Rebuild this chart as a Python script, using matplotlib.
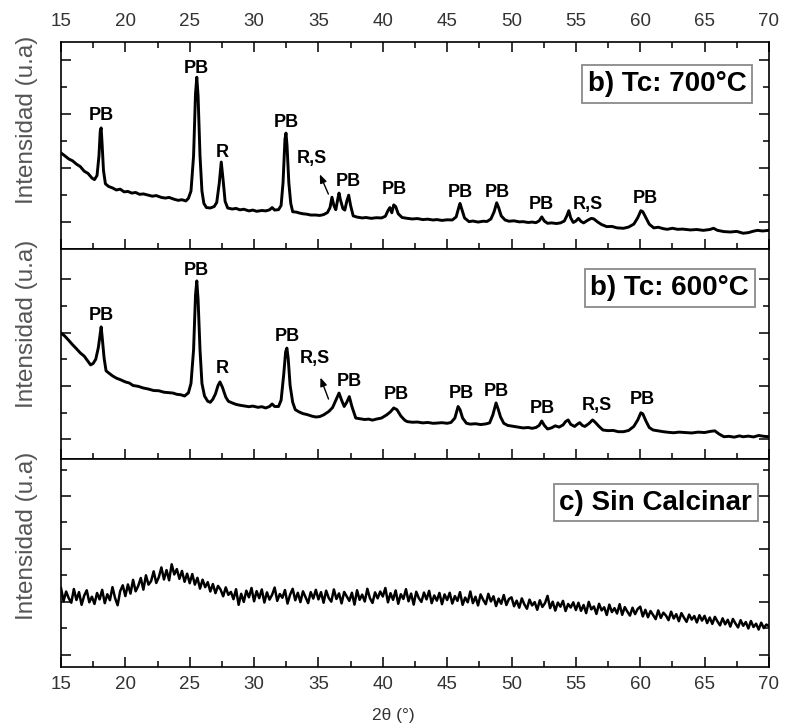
import numpy as np
import matplotlib.pyplot as plt
from matplotlib.ticker import MultipleLocator, FixedLocator

plt.rcParams['font.family'] = ['Liberation Sans', 'DejaVu Sans']

# --- Difractograma Tc = 700 C (intensidad relativa del panel, 0-100) ---
x_700 = [15.0, 15.3, 15.6, 15.9, 16.2, 16.5, 16.8, 17.1, 17.4, 17.6, 17.8, 17.95, 18.05, 18.12, 18.2, 18.3, 18.45,
         18.7, 19.0, 19.3, 19.6, 19.9, 20.2, 20.5, 20.8, 21.1, 21.4, 21.8, 22.1, 22.4, 22.8, 23.1, 23.4, 23.8,
         24.1, 24.4, 24.7, 24.9, 25.1, 25.3, 25.45, 25.55, 25.65, 25.8, 25.95, 26.1, 26.3, 26.6, 26.9, 27.1,
         27.3, 27.45, 27.6, 27.75, 27.95, 28.3, 28.6, 28.9, 29.2, 29.6, 29.9, 30.2, 30.6, 30.9, 31.2, 31.4,
         31.6, 31.9, 32.1, 32.25, 32.4, 32.48, 32.56, 32.7, 32.85, 33.0, 33.3, 33.5, 33.8, 34.1, 34.4, 34.8,
         35.1, 35.4, 35.7, 35.9, 36.05, 36.2, 36.35, 36.5, 36.6, 36.7, 36.9, 37.05, 37.2, 37.35, 37.5, 37.7,
         38.0, 38.4, 38.7, 39.1, 39.5, 39.9, 40.2, 40.4, 40.55, 40.7, 40.85, 41.0, 41.2, 41.5, 41.9, 42.3,
         42.7, 43.1, 43.5, 43.9, 44.2, 44.6, 45.0, 45.4, 45.7, 45.9, 46.0, 46.15, 46.35, 46.7, 47.0, 47.4,
         47.8, 48.1, 48.4, 48.65, 48.85, 49.0, 49.2, 49.5, 49.8, 50.2, 50.6, 50.9, 51.3, 51.6, 51.9, 52.15,
         52.35, 52.55, 52.8, 53.1, 53.5, 53.8, 54.1, 54.3, 54.45, 54.6, 54.8, 55.0, 55.2, 55.4, 55.6, 55.9,
         56.2, 56.4, 56.7, 57.0, 57.4, 57.8, 58.2, 58.7, 59.1, 59.5, 59.8, 60.05, 60.2, 60.45, 60.7, 61.05,
         61.4, 61.8, 62.1, 62.5, 62.9, 63.3, 63.9, 64.4, 64.9, 65.4, 65.7, 66.0, 66.5, 67.0, 67.5, 68.0,
         68.4, 68.8, 69.1, 69.5, 70.0]
y_700 = [46.4, 45.0, 43.5, 42.6, 41.0, 39.8, 37.6, 36.5, 34.3, 33.5, 35.5, 45.0, 57.0, 58.5, 50.0, 38.0, 31.5,
         30.2, 29.5, 28.5, 28.9, 27.6, 27.8, 27.0, 27.3, 26.4, 26.6, 26.0, 25.5, 25.8, 24.9, 24.6, 24.9, 24.0,
         23.5, 23.8, 23.2, 24.5, 28.0, 45.0, 75.0, 83.0, 74.0, 45.0, 28.0, 22.0, 20.0, 19.8, 20.5, 22.5,
         32.0, 42.0, 33.0, 23.0, 19.8, 19.3, 19.6, 18.9, 19.2, 18.4, 18.8, 18.2, 18.6, 18.4, 18.9, 20.0,
         18.8, 19.0, 21.0, 32.0, 53.0, 56.0, 50.0, 32.0, 22.0, 18.0, 17.8, 17.4, 17.0, 16.8, 16.4, 16.4,
         16.2, 16.6, 17.6, 20.0, 25.0, 21.0, 19.0, 24.0, 27.0, 24.0, 19.5, 18.8, 23.0, 26.0, 21.0, 16.0,
         15.4, 15.0, 15.2, 14.8, 15.1, 15.0, 15.8, 18.5, 20.0, 17.5, 21.3, 20.5, 17.0, 15.2, 14.8, 14.5,
         14.7, 14.2, 14.4, 14.0, 14.2, 13.8, 14.1, 14.0, 15.5, 20.0, 22.0, 19.0, 15.0, 13.2, 13.5, 13.0,
         13.4, 13.3, 14.5, 18.0, 22.3, 20.0, 16.0, 14.0, 13.4, 13.6, 13.1, 13.2, 12.8, 13.0, 12.7, 13.6,
         15.5, 13.5, 12.4, 12.6, 12.3, 12.6, 13.5, 16.0, 18.5, 15.0, 12.8, 13.5, 14.8, 13.3, 12.6, 13.8,
         14.8, 14.5, 13.0, 11.8, 10.8, 10.9, 10.2, 10.0, 10.6, 12.0, 15.0, 18.5, 18.0, 15.0, 12.0, 10.2,
         10.5, 9.8, 9.5, 10.0, 9.5, 9.6, 9.2, 9.4, 9.0, 9.4, 10.0, 9.0, 8.4, 8.2, 8.5, 7.6,
         7.9, 8.6, 9.0, 8.7, 9.0]

# --- Difractograma Tc = 600 C ---
x_600 = [15.0, 15.3, 15.6, 15.9, 16.2, 16.5, 16.8, 17.1, 17.3, 17.5, 17.7, 17.9, 18.05, 18.12, 18.2, 18.35, 18.5,
         18.7, 19.0, 19.3, 19.6, 20.0, 20.3, 20.6, 21.0, 21.4, 21.8, 22.2, 22.6, 23.0, 23.4, 23.7, 24.0,
         24.3, 24.6, 24.9, 25.1, 25.3, 25.45, 25.55, 25.65, 25.8, 25.95, 26.15, 26.4, 26.6, 26.8, 27.0, 27.2,
         27.35, 27.55, 27.8, 28.0, 28.3, 28.6, 28.9, 29.3, 29.6, 29.9, 30.3, 30.6, 30.9, 31.2, 31.4, 31.6,
         31.9, 32.1, 32.3, 32.45, 32.55, 32.65, 32.8, 33.0, 33.2, 33.5, 33.8, 34.1, 34.5, 34.8, 35.1, 35.4,
         35.8, 36.1, 36.35, 36.6, 36.8, 37.0, 37.2, 37.4, 37.6, 37.9, 38.2, 38.6, 38.9, 39.2, 39.5, 39.9,
         40.3, 40.6, 40.85, 41.1, 41.4, 41.7, 41.9, 42.3, 42.7, 43.1, 43.5, 43.9, 44.2, 44.6, 45.0, 45.3,
         45.6, 45.85, 46.0, 46.2, 46.5, 46.8, 47.2, 47.6, 48.0, 48.3, 48.55, 48.8, 48.95, 49.15, 49.4, 49.7,
         50.1, 50.5, 50.9, 51.3, 51.6, 51.9, 52.15, 52.35, 52.55, 52.8, 53.1, 53.4, 53.7, 54.0, 54.2, 54.4,
         54.6, 54.9, 55.1, 55.3, 55.5, 55.7, 56.0, 56.3, 56.5, 56.8, 57.1, 57.5, 57.9, 58.3, 58.7, 59.1,
         59.5, 59.8, 60.05, 60.2, 60.45, 60.7, 61.0, 61.4, 61.8, 62.2, 62.6, 63.0, 63.5, 64.0, 64.5, 65.0,
         65.5, 65.8, 66.1, 66.5, 66.9, 67.3, 67.7, 68.0, 68.4, 68.8, 69.2, 69.6, 70.0]
y_600 = [60.0, 58.5, 56.5, 54.4, 52.5, 50.5, 49.0, 46.5, 44.8, 45.5, 47.5, 53.0, 60.0, 62.9, 58.0, 48.0, 42.0,
         41.0, 39.6, 38.5, 37.8, 36.7, 36.2, 35.0, 34.6, 33.8, 33.3, 32.6, 32.5, 31.8, 31.6, 31.4, 30.8,
         30.6, 30.0, 31.5, 36.0, 52.0, 78.0, 84.8, 76.0, 52.0, 36.0, 30.0, 27.5, 27.0, 28.5, 31.0, 35.0,
         36.7, 34.0, 29.5, 27.5, 26.7, 26.0, 25.6, 25.2, 24.9, 25.2, 24.6, 24.9, 24.3, 25.0, 26.2, 25.0,
         25.0, 28.0, 40.0, 51.0, 52.8, 48.0, 35.0, 27.0, 23.5, 22.4, 21.6, 21.2, 20.4, 20.0, 20.2, 21.0,
         22.6, 24.5, 28.0, 31.4, 28.0, 25.0, 27.0, 29.7, 25.0, 19.5, 19.2, 18.8, 19.0, 18.5, 19.0, 19.5,
         21.0, 22.5, 24.3, 23.5, 20.5, 18.5, 17.8, 17.5, 17.6, 17.2, 17.4, 17.0, 17.1, 17.3, 17.0, 17.4,
         19.5, 25.0, 23.5, 19.5, 17.0, 16.6, 16.8, 16.4, 16.7, 17.2, 21.0, 26.7, 24.0, 20.0, 17.0, 16.0,
         15.6, 15.2, 14.8, 15.0, 14.6, 15.0, 16.0, 18.1, 16.0, 14.3, 14.8, 15.8, 15.2, 16.2, 17.8, 18.6,
         16.5, 15.5, 16.5, 17.3, 16.0, 15.5, 16.8, 18.6, 17.5, 15.5, 13.8, 13.5, 13.6, 13.0, 13.0, 13.6,
         15.5, 18.5, 22.0, 21.5, 18.0, 15.0, 13.8, 13.4, 13.0, 12.7, 12.5, 12.8, 12.6, 12.4, 12.8, 12.6,
         13.2, 13.4, 12.0, 10.6, 10.8, 10.4, 11.0, 10.6, 10.9, 10.5, 11.2, 10.8, 10.6]

# --- Muestra sin calcinar, paso de 0.2 grados ---
y_sin = [37.9, 31.6, 36.2, 33.0, 30.8, 37.4, 32.1, 35.9, 29.8, 34.2, 36.8, 31.0, 33.7, 30.2, 35.5, 32.4, 37.0, 30.6, 34.9, 32.0, 38.3, 33.1, 29.6, 36.4, 39.2,
         34.0, 39.6, 35.2, 41.8, 36.3, 38.9, 42.7, 37.1, 44.0, 39.5, 41.2, 45.9, 40.3, 43.1, 47.8, 42.0, 46.5, 41.6, 49.3, 44.4, 47.0, 42.3, 46.1, 40.9, 44.8,
         40.2, 44.6, 39.5, 42.8, 37.6, 41.9, 38.3, 40.7, 36.2, 39.8, 35.4, 38.9, 37.1, 33.9, 38.2, 34.6, 36.0, 32.5, 37.3, 29.8, 35.1, 31.2, 36.6, 33.4, 37.9,
         31.5, 36.4, 33.0, 37.2, 30.9, 35.8, 32.3, 34.6, 38.1, 31.7, 35.0, 33.2, 36.9, 30.4, 34.7, 37.5, 32.0, 35.6, 31.1, 36.3, 33.5, 30.6, 35.9, 32.8, 37.0,
         32.4, 35.9, 30.8, 36.6, 33.1, 31.3, 37.2, 32.6, 35.3, 30.5, 36.0, 33.9, 31.7, 35.6, 29.9, 36.8, 32.2, 34.7, 31.4, 37.5, 33.0, 30.7, 35.8, 32.9, 36.2,
         33.8, 37.9, 31.0, 35.4, 32.2, 36.7, 30.3, 34.9, 32.6, 37.3, 31.5, 35.2, 29.9, 36.1, 33.0, 31.2, 35.7, 32.4, 36.5, 30.6, 34.3, 31.8, 35.5, 30.1, 34.8,
         32.1, 35.6, 30.4, 34.0, 31.7, 35.9, 29.8, 33.3, 31.0, 36.2, 30.6, 33.7, 29.5, 34.8, 32.2, 30.1, 35.1, 31.4, 33.9, 29.2, 32.8, 30.3, 34.5, 29.7, 32.6,
         33.4, 29.1, 31.8, 28.4, 32.9, 30.0, 27.9, 32.3, 29.5, 31.1, 27.4, 32.0, 28.8, 30.6, 34.1, 28.2, 31.3, 27.0, 30.9, 28.9, 31.7, 26.8, 30.2, 28.5, 31.0,
         27.3, 30.8, 26.9, 29.7, 25.8, 31.2, 27.6, 29.0, 25.4, 30.3, 27.1, 28.6, 24.9, 29.9, 26.3, 28.2, 25.6, 30.1, 25.0, 28.7, 26.5, 24.6, 28.4, 25.3, 27.8,
         28.9, 24.2, 27.4, 23.8, 26.8, 24.9, 22.9, 27.1, 23.5, 26.0, 24.6, 22.4, 26.5, 23.2, 25.3, 21.9, 25.8, 23.6, 21.6, 25.1, 22.7, 24.4, 21.3, 24.8, 22.2,
         24.5, 21.0, 23.7, 20.6, 24.0, 21.8, 19.9, 23.3, 20.4, 22.6, 19.3, 23.0, 20.8, 18.9, 22.4, 19.7, 21.5, 18.4, 22.0, 19.1, 20.7, 17.9, 21.2, 18.6, 20.3,
         19.5]
x_sin = np.linspace(15, 70, len(y_sin))

# --- Identificacion de picos (texto, 2theta, altura del texto) ---
picos_700 = ['PB', 'PB', 'R', 'PB', 'R,S', 'PB', 'PB', 'PB', 'PB', 'PB', 'R,S', 'PB']
picos_700_x = [18.1, 25.55, 27.5, 32.5, 34.5, 37.3, 40.9, 46.05, 48.9, 52.35, 55.9, 60.4]
picos_700_y = [64.7, 87.0, 46.4, 60.9, 43.5, 32.4, 28.5, 27.5, 27.5, 21.7, 21.7, 24.2]

picos_600 = ['PB', 'PB', 'R', 'PB', 'R,S', 'PB', 'PB', 'PB', 'PB', 'PB', 'R,S', 'PB']
picos_600_x = [18.1, 25.5, 27.5, 32.6, 34.7, 37.4, 41.05, 46.1, 48.8, 52.4, 56.6, 60.2]
picos_600_y = [68.1, 89.7, 42.9, 58.2, 48.0, 36.8, 30.5, 31.0, 32.0, 24.1, 25.7, 28.1]

titulos = ['b) Tc: 700°C', 'b) Tc: 600°C', 'c) Sin Calcinar']


def estilo_eje(ax, y_mayor, y_menor):
    ax.set_xlim(15, 70)
    ax.set_ylim(0, 100)
    ax.xaxis.set_major_locator(MultipleLocator(5))
    ax.xaxis.set_minor_locator(MultipleLocator(2.5))
    ax.yaxis.set_major_locator(FixedLocator(y_mayor))
    ax.yaxis.set_minor_locator(FixedLocator(y_menor))
    ax.tick_params(which='both', direction='in', right=True, top=False, width=1.1,
                   labelleft=False, labelbottom=False, labelsize=13.5, labelcolor='#333333')
    ax.tick_params(which='major', length=7)
    ax.tick_params(which='minor', length=4)
    for s in ax.spines.values():
        s.set_linewidth(1.2)


def etiquetas(ax, textos, xs, ys):
    for t, x, y in zip(textos, xs, ys):
        ax.text(x, y, t, ha='center', va='center', fontsize=13, fontweight='bold')


def caja(ax, texto, x, y):
    ax.text(x, y, texto, transform=ax.transAxes, ha='center', va='center',
            fontsize=20, fontweight='bold',
            bbox=dict(boxstyle='square,pad=0.2', fc='white', ec='#8a8a8a', lw=1.3))


def main():
    fig = plt.figure(figsize=(7.86, 7.28), dpi=100)
    left, width = 0.0776, 0.9007
    ax1 = fig.add_axes([left, 0.658, width, 0.2843])
    ax2 = fig.add_axes([left, 0.3695, width, 0.2885])
    ax3 = fig.add_axes([left, 0.0842, width, 0.2853])

    # panel superior
    ax1.plot(x_700, y_700, color='black', lw=2.1)
    estilo_eje(ax1, [13.0, 39.1, 65.2, 91.3], [26.1, 52.2, 78.3])
    ax1.tick_params(which='both', top=True, labeltop=True)
    ax1.tick_params(axis='x', which='major', pad=9)
    etiquetas(ax1, picos_700, picos_700_x, picos_700_y)
    ax1.annotate('', xy=(35.02, 37.3), xytext=(35.86, 25.3),
                 arrowprops=dict(arrowstyle='-|>,head_length=0.5,head_width=0.2', color='black', lw=1.0))
    caja(ax1, titulos[0], 0.856, 0.797)

    # panel medio
    ax2.plot(x_600, y_600, color='black', lw=2.1)
    estilo_eje(ax2, [9.4, 34.8, 60.2, 85.6], [22.1, 47.5, 72.9])
    etiquetas(ax2, picos_600, picos_600_x, picos_600_y)
    ax2.annotate('', xy=(35.08, 40.0), xytext=(35.86, 27.3),
                 arrowprops=dict(arrowstyle='-|>,head_length=0.5,head_width=0.2', color='black', lw=1.0))
    caja(ax2, titulos[1], 0.860, 0.814)

    # panel inferior
    ax3.plot(x_sin, y_sin, color='black', lw=1.8)
    estilo_eje(ax3, [5.6, 31.2, 56.9, 82.0], [18.4, 44.0, 69.6, 94.7])
    ax3.tick_params(labelbottom=True)
    ax3.tick_params(axis='x', which='major', pad=7)
    caja(ax3, titulos[2], 0.840, 0.790)

    for yc in [0.835, 0.555, 0.264]:
        fig.text(0.034, yc, 'Intensidad (u.a)', rotation=90, ha='center', va='center',
                 fontsize=17.5, color='#555555')
    fig.text(0.5, 0.017, '2θ (°)', ha='center', va='center', fontsize=12.5, color='#333333')

    fig.savefig('out.png', dpi=100)


main()
